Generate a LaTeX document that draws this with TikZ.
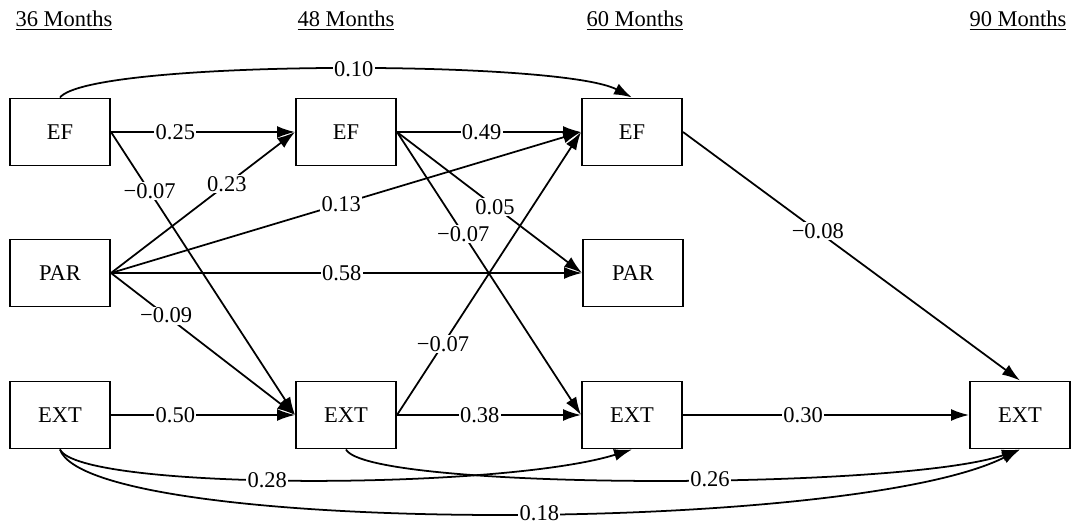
\documentclass[tikz,border=0pt]{standalone}
\usepackage{amsmath,amssymb}
\usepackage{fontspec}
\setmainfont{Liberation Serif}
\usetikzlibrary{arrows.meta}

\begin{document}
\begin{tikzpicture}[x=0.025cm,y=-0.025cm,
        font=\fontsize{16}{19}\selectfont,
        var/.style={draw,line width=1.4pt,minimum width=2.5cm,minimum height=1.675cm,inner sep=0pt},
        path/.style={line width=1.25pt,-{Latex[length=0.45cm,width=0.3cm]}},
        coef/.style={fill=white,inner sep=1pt}]
        \useasboundingbox (0,0) rectangle (1074,525);
        \node (t36) at (64,21) {\underline{36 Months}};
        \node (t48) at (346,21) {\underline{48 Months}};
        \node (t60) at (635,21) {\underline{60 Months}};
        \node (t90) at (1018,21) {\underline{90 Months}};
        \node[var] (ef36) at (60,132) {EF};
        \node[var] (ef48) at (346,132) {EF};
        \node[var] (ef60) at (632,132) {EF};
        \node[var] (par36) at (60,273) {PAR};
        \node[var] (par60) at (633,273) {PAR};
        \node[var] (ext36) at (60,415) {EXT};
        \node[var] (ext48) at (346,415) {EXT};
        \node[var] (ext60) at (632,415) {EXT};
        \node[var] (ext90) at (1020,415) {EXT};
        \draw[path] (ef36.north) .. controls +(30,-38) and +(-72,-38) .. node[coef,pos=0.53] {0.10} (ef60.north);
        \draw[path] (ef36.east) -- node[coef,pos=0.21] {−0.07} (ext48.west);
        \draw[path] (ef36.east) -- node[coef,pos=0.35] {0.25} (ef48.west);
        \draw[path] (par36.east) -- node[coef,pos=0.63] {0.23} (ef48.west);
        \draw[path] (par36.east) -- node[coef,pos=0.49] {0.13} (ef60.west);
        \draw[path] (par36.east) -- node[coef,pos=0.49] {0.58} (par60.west);
        \draw[path] (par36.east) -- node[coef,pos=0.3] {−0.09} (ext48.west);
        \draw[path] (ext36.east) -- node[coef,pos=0.35] {0.50} (ext48.west);
        \draw[path] (ef48.east) -- node[coef,pos=0.46] {0.49} (ef60.west);
        \draw[path] (ef48.east) -- node[coef,pos=0.53] {0.05} (par60.west);
        \draw[path] (ef48.east) -- node[coef,pos=0.36] {−0.07} (ext60.west);
        \draw[path] (ext48.east) -- node[coef,pos=0.25] {−0.07} (ef60.west);
        \draw[path] (ext48.east) -- node[coef,pos=0.45] {0.38} (ext60.west);
        \draw[path] (ef60.east) -- node[coef,pos=0.4] {−0.08} (ext90.north);
        \draw[path] (ext60.east) -- node[coef,pos=0.42] {0.30} (ext90.west);
        \draw[path] (ext36.south) .. controls +(20,41) and +(-132,41) .. node[coef,pos=0.45] {0.28} (ext60.south);
        \draw[path] (ext48.south) .. controls +(22,41) and +(-120,41) .. node[coef,pos=0.57] {0.26} (ext90.south);
        \draw[path] (ext36.south) .. controls +(30,86) and +(-170,86) .. node[coef,pos=0.54] {0.18} (ext90.south);
\end{tikzpicture}
\end{document}
